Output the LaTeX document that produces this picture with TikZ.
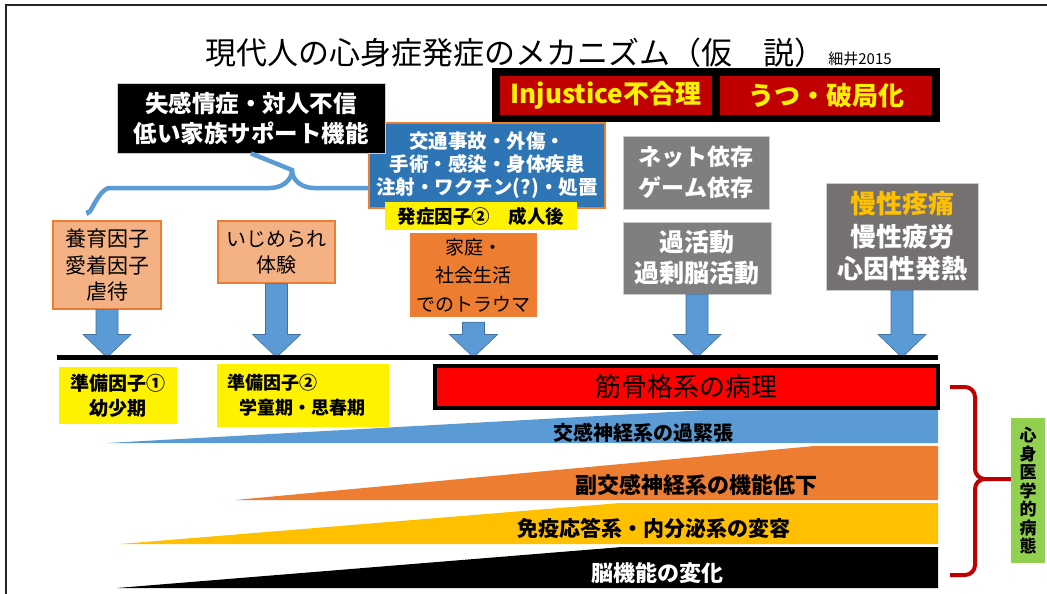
\documentclass[tikz,border=0pt]{standalone}
\usepackage{fontspec}
\setmainfont{Noto Sans CJK JP}
\usetikzlibrary{calc}

\definecolor{skyblue}{HTML}{5B9BD5}
\definecolor{edgeblue}{HTML}{41719C}
\definecolor{deepblue}{HTML}{2E75B6}
\definecolor{tangerine}{HTML}{ED7D31}
\definecolor{peach}{HTML}{F4B183}
\definecolor{amber}{HTML}{FFC000}
\definecolor{darkred}{HTML}{C00000}
\definecolor{leaf}{HTML}{92D050}
\definecolor{slate}{HTML}{7F7F7F}
\definecolor{slatedark}{HTML}{767171}

\newcommand{\fs}[2]{\fontsize{#1}{#2}\selectfont}

\tikzset{
  box/.style={inner sep=0pt, align=center},
  peachbox/.style={box, fill=peach, draw=tangerine, line width=1.2pt},
  graybox/.style={box, fill=slate, draw=gray!40, line width=0.8pt, text=white},
  yellowbox/.style={box, fill=yellow},
  wedgetext/.style={inner sep=0pt, font=\fs{21}{24}\bfseries},
  fatarrow/.style={fill=skyblue, draw=edgeblue, line width=0.6pt,
    to path={let \p1=(\tikztostart), \p2=(\tikztotarget) in
      (\x1-11pt,\y1) -- (\x1-11pt,\y2+23pt) -- (\x1-24pt,\y2+23pt) -- (\x1,\y2)
      -- (\x1+24pt,\y2+23pt) -- (\x1+11pt,\y2+23pt) -- (\x1+11pt,\y1) -- cycle}},
}

\begin{document}
\begin{tikzpicture}[x=1pt,y=-1pt]
\useasboundingbox (0,0) rectangle (1047,594);
\clip (0,0) rectangle (1047,594);
\draw[line width=1.5pt, black!85] (6,610) -- (6,5) -- (1060,5);

% title
\node[inner sep=0pt, font=\fs{31}{34}] (title) at (515,53) {現代人の心身症発症のメカニズム（仮　説）};
\node[inner sep=0pt, anchor=base west, font=\fs{15}{17}] (auth) at ([xshift=3pt]title.base east) {細井2015};

% top boxes
\node[box, fill=black, minimum width=448, minimum height=54] (unjust) at (716,95) {};
\node[box, fill=darkred, text=yellow, minimum width=212, minimum height=39, font=\fs{26}{30}\bfseries] (injus) at (606,95.5) {Injustice不合理};
\node[box, fill=darkred, text=yellow, minimum width=212, minimum height=39, font=\fs{26}{30}\bfseries] (hakyoku) at (826,95.5) {うつ・破局化};

\node[box, fill=deepblue, draw=tangerine, line width=1.5pt, text=white, minimum width=236, minimum height=85, font=\fs{19.5}{23}\bfseries] (accid) at (487,165.5) {交通事故・外傷・\\手術・感染・身体疾患\\注射・ワクチン(?)・処置};
\node[yellowbox, minimum width=192, minimum height=28, font=\fs{18.5}{22}\bfseries] (onset) at (481,216) {発症因子②　成人後};
\node[box, fill=tangerine, minimum width=127, minimum height=84, font=\fs{19}{28.5}] (trauma) at (473.5,275) {家庭・\\社会生活\\でのトラウマ};

\node[box, fill=black, draw=gray!40, line width=0.8pt, text=white, minimum width=268, minimum height=70, font=\fs{23.5}{30}\bfseries] (fam) at (251,118) {失感情症・対人不信\\低い家族サポート機能};

% blue brace
\coordinate (bcusp) at (292,170);
\draw[skyblue, line width=4.5pt] (88,210) to[out=-90,in=180] (110,188) -- (270,188) to[out=0,in=-90] (bcusp) -- (fam.south);
\draw[skyblue, line width=4.5pt] (bcusp) to[out=-90,in=180] (314,188) -- (314,188 -| accid.west);

\node[peachbox, minimum width=108, minimum height=88, font=\fs{21}{26.5}] (nurt) at (107,265) {養育因子\\愛着因子\\虐待};
\node[peachbox, minimum width=117, minimum height=62, font=\fs{20}{26}] (bully) at (276.5,252) {いじめられ\\体験};

\node[graybox, minimum width=146, minimum height=73, font=\fs{23}{31}\bfseries] (net) at (696,172.5) {ネット依存\\ゲーム依存};
\node[graybox, minimum width=148, minimum height=72, font=\fs{25}{31}\bfseries] (overact) at (697,258) {過活動\\過剰脳活動};
\node[graybox, fill=slatedark, minimum width=152, minimum height=107, font=\fs{26}{32.5}\bfseries] (chronic) at (902,236.5) {\textcolor{amber}{慢性疼痛}\\慢性疲労\\心因性発熱};

% base line
\coordinate (lineL) at (57,357.5);
\coordinate (lineR) at (938,357.5);

\draw[fatarrow] (nurt.south) to (nurt.south |- lineL);
\draw[fatarrow] (bully.south) to (bully.south |- lineL);
\draw[fatarrow] ([yshift=-5pt]trauma.south) to (trauma.south |- lineL);
\draw[fatarrow] (overact.south) to (overact.south |- lineL);
\draw[fatarrow] (chronic.south) to (chronic.south |- lineL);

\draw[line width=5pt] (lineL) -- (lineR);

\node[yellowbox, minimum width=118, minimum height=57, font=\fs{19}{25}\bfseries] (prep1) at (118,395.5) {準備因子①\\幼少期};
\node[yellowbox, text width=152, inner sep=10pt, minimum height=57, align=left, font=\fs{18}{25}\bfseries] (prep2) at (303,395.5) {準備因子②\\\hspace*{12pt}学童期・思春期};

\node[box, fill=red, draw=black, line width=4pt, minimum width=503, minimum height=42, font=\fs{26}{30}] (muscle) at (686.5,387) {筋骨格系の病理};

% wedges
\fill[skyblue] (107,443) -- (707,410) -- (938,410) -- (938,443) -- cycle;
\fill[tangerine] (235,500) -- (814,446) -- (938,446) -- (938,500) -- cycle;
\fill[amber] (120,544) -- (620,503) -- (938,503) -- (938,544) -- cycle;
\fill[black] (117,588) -- (622,547) -- (938,547) -- (938,588) -- cycle;

\node[wedgetext, font=\fs{20}{24}\bfseries] (symp) at (643,433) {交感神経系の過緊張};
\node[wedgetext, font=\fs{22}{24}\bfseries] (parasymp) at (696,485) {副交感神経系の機能低下};
\node[wedgetext] (immune) at (654,528) {免疫応答系・内分泌系の変容};
\node[wedgetext, text=white, font=\fs{22}{24}\bfseries] (brain) at (657,573) {脳機能の変化};

% red brace
\node[box, fill=leaf, minimum width=34, minimum height=145, font=\fs{17}{18.5}\bfseries] (psyso) at (1028,490.5) {心\\身\\医\\学\\的\\病\\態};
\coordinate (rcusp) at (985,479);
\draw[darkred, line width=4pt] (950,387) -- (965,387) to[out=0,in=90] (975,397) -- (975,469) to[out=-90,in=180] (rcusp) -- (rcusp -| psyso.west);
\draw[darkred, line width=4pt] (rcusp) to[out=180,in=90] (975,489) -- (975,565) to[out=-90,in=0] (965,575) -- (950,575);
\end{tikzpicture}
\end{document}
